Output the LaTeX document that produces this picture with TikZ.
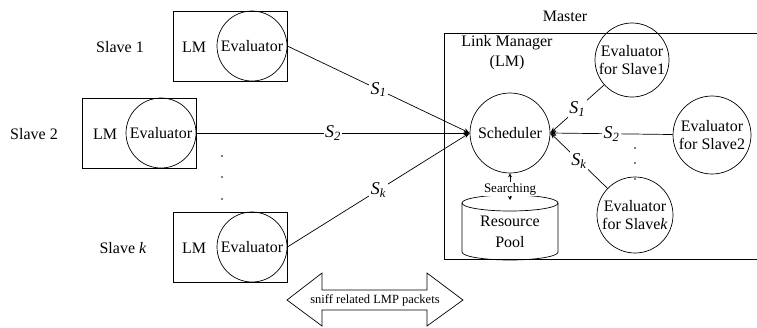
\documentclass[tikz,border=0pt]{standalone}
\usepackage{fontspec}
\setmainfont{Liberation Serif}
\usetikzlibrary{arrows.meta}
\begin{document}
\begin{tikzpicture}[x=1pt,y=-1pt,
  line width=0.7pt,
  every node/.style={font=\fontsize{16}{18}\selectfont, inner sep=0pt},
  slavebox/.style={draw, minimum width=114pt, minimum height=70pt},
  evalc/.style={draw, circle, minimum size=70pt},
  mevalc/.style={draw, circle, minimum size=74pt, align=center},
  conn/.style={-{Stealth[length=6pt,width=4.5pt]}},
  slbl/.style={fill=white, inner sep=1.5pt, font=\fontsize{18}{18}\selectfont},
  tinydot/.style={circle, fill, minimum size=1.8pt},
  searcharrow/.style={{Stealth[length=4pt,width=4pt]}-{Stealth[length=4pt,width=4pt]}}]
\useasboundingbox (0,0) rectangle (757,327);

% ---- slaves ----
\node[slavebox] (b1) at (230,46) {};
\node[evalc] (e1) at (252,46) {Evaluator};
\node (lm1) at (194,47) {LM};
\node (s1) at (120,47) {Slave 1};

\node[slavebox] (b2) at (139,133) {};
\node[evalc] (e2) at (161,133) {Evaluator};
\node (lm2) at (105,134) {LM};
\node (s2) at (34,134) {Slave 2};

\node[slavebox] (bk) at (230,247) {};
\node[evalc] (ek) at (252,247) {Evaluator};
\node (lmk) at (194,248) {LM};
\node (sk) at (123,248) {Slave \textit{k}};

\node[tinydot] (ld1) at (222,156) {};
\node[tinydot] (ld2) at (222,177) {};
\node[tinydot] (ld3) at (222,199) {};

% ---- master ----
\node (master) at (565,16) {Master};
\draw (757,33) -- (444,33) -- (444,259) -- (757,259);
\node[align=center, font=\fontsize{16}{20}\selectfont] (lmname) at (507,53) {Link Manager\\(LM)};

\node[draw, circle, minimum size=80pt] (sch) at (510,133) {Scheduler};
\node[mevalc] (ev1) at (632,60) {Evaluator\\for Slave1};
\node[mevalc, minimum size=78pt] (ev2) at (712,135) {Evaluator\\for Slave2};
\node[mevalc, minimum size=76pt] (evk) at (635,215) {Evaluator\\for Slave\textit{k}};

\node[tinydot] (rd1) at (635,148) {};
\node[tinydot] (rd2) at (635,163) {};
\node[tinydot] (rd3) at (635,179) {};

% resource pool cylinder
\draw (462,203) -- (462,252) arc[start angle=180, end angle=360, x radius=48pt, y radius=8pt] -- (558,203);
\draw (510,203) ellipse [x radius=48pt, y radius=8pt];
\node[align=center, font=\fontsize{16}{21}\selectfont] (pool) at (510,232) {Resource\\Pool};
\coordinate (pooltop) at (510,200);

\draw[searcharrow] (sch.south) -- node[fill=white, inner sep=1pt, font=\fontsize{13}{13}\selectfont, pos=0.6] {Searching} (pooltop);

% ---- connectors ----
\draw[conn] (e1.east) -- node[slbl] {\textit{S}\textsubscript{\textit{1}}} (sch.west);
\draw[conn] (e2.east) -- node[slbl] {\textit{S}\textsubscript{\textit{2}}} (sch.west);
\draw[conn] (ek.east) -- node[slbl] {\textit{S}\textsubscript{\textit{k}}} (sch.west);
\draw[conn] (ev1) -- node[slbl] {\textit{S}\textsubscript{\textit{1}}} (sch.east);
\draw[conn] (ev2) -- node[slbl] {\textit{S}\textsubscript{\textit{2}}} (sch.east);
\draw[conn] (evk) -- node[slbl] {\textit{S}\textsubscript{\textit{k}}} (sch.east);

% ---- sniff double arrow ----
\node[font=\fontsize{12.5}{12.5}\selectfont] (sniff) at (375,300) {sniff related LMP packets};
\draw (287,300) -- (322,273) -- (322,290) -- (427,290) -- (427,273) -- (463,300)
  -- (427,326) -- (427,310) -- (322,310) -- (322,326) -- cycle;
\end{tikzpicture}
\end{document}
